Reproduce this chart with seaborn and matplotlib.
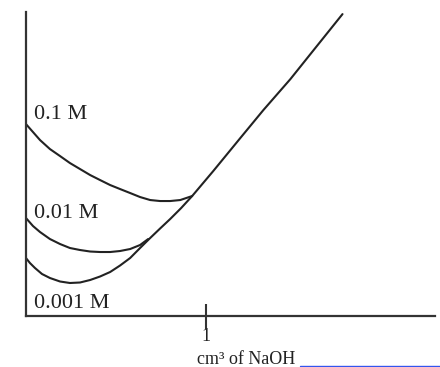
import seaborn as sns
import matplotlib.pyplot as plt
from matplotlib.lines import Line2D

sns.set_style("white")
plt.rcParams["font.family"] = ["Liberation Serif", "DejaVu Serif"]

# volume of NaOH added (cm3) and conductance (arbitrary units)
vol_01 = [0.0, 0.039, 0.078, 0.133, 0.189, 0.244, 0.3, 0.356, 0.411, 0.467,
          0.522, 0.578, 0.633, 0.689, 0.744, 0.8, 0.856, 0.922]
cond_01 = [1.92, 1.84, 1.76, 1.67, 1.60, 1.53, 1.47, 1.41, 1.36, 1.31,
           1.27, 1.23, 1.19, 1.16, 1.15, 1.15, 1.16, 1.20]

vol_001 = [0.0, 0.039, 0.078, 0.133, 0.189, 0.244, 0.3, 0.356, 0.411, 0.467,
           0.522, 0.578, 0.633, 0.678]
cond_001 = [0.98, 0.90, 0.84, 0.77, 0.72, 0.68, 0.66, 0.645, 0.64, 0.64,
            0.65, 0.67, 0.71, 0.77]

vol_0001 = [0.0, 0.022, 0.05, 0.089, 0.133, 0.189, 0.244, 0.3, 0.356, 0.411,
            0.467, 0.522, 0.578, 0.633, 0.689, 0.744, 0.8, 0.861, 0.922,
            1.039, 1.189, 1.317, 1.467, 1.578, 1.756]
cond_0001 = [0.58, 0.53, 0.48, 0.42, 0.38, 0.345, 0.33, 0.335, 0.36, 0.395,
             0.44, 0.505, 0.58, 0.68, 0.78, 0.875, 0.97, 1.08, 1.20,
             1.45, 1.78, 2.06, 2.37, 2.62, 3.02]

labels = ["0.1 M", "0.01 M", "0.001 M"]
label_y = [1.97, 0.98, 0.08]

ink = "#222222"

fig = plt.figure(figsize=(4.4, 3.67), dpi=100)
ax = fig.add_axes([0.059, 0.139, 0.93, 0.828])

for v, c in [(vol_01, cond_01), (vol_001, cond_001), (vol_0001, cond_0001)]:
    sns.lineplot(x=v, y=c, ax=ax, color=ink, lw=1.5, sort=False)

for lab, y in zip(labels, label_y):
    ax.text(0.045, y, lab, fontsize=16, color=ink, ha="left", va="baseline")

ax.set_xlim(0, 2.27)
ax.set_ylim(0, 3.04)
sns.despine(ax=ax)
for s in ["left", "bottom"]:
    ax.spines[s].set_linewidth(1.6)
    ax.spines[s].set_color("#333333")

ax.set_yticks([])
ax.set_xticks([1])
ax.set_xticklabels(["1"], fontsize=13, color=ink)
ax.tick_params(axis="x", bottom=True, direction="inout", length=18, width=1.5,
               color="#333333", pad=0)

fig.text(246 / 440, 0.008, "cm³ of NaOH", fontsize=13, color=ink,
         ha="center", va="baseline")
fig.add_artist(Line2D([300 / 440, 1.0], [0.003, 0.003], color="#3355ee", lw=1))

fig.savefig("out.png", dpi=100)
